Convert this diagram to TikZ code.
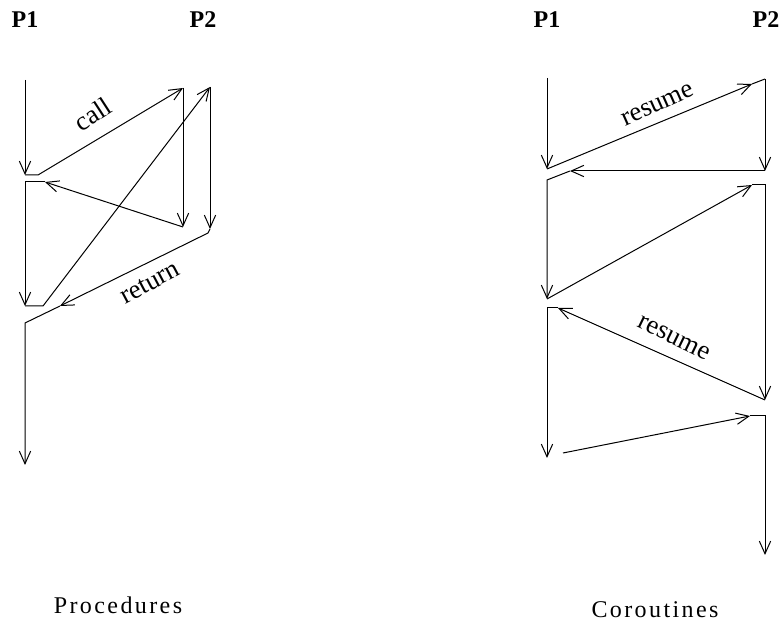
\documentclass[tikz,border=0pt]{standalone}
\usepackage{fontspec}
\setmainfont{Liberation Serif}
\usetikzlibrary{arrows.meta}

\begin{document}
\begin{tikzpicture}[x=0.75pt, y=-0.75pt,
                        flow/.style={-{Straight Barb[length=9.5pt, width=8.5pt]}, line width=0.75pt},
                        proc/.style={font=\bfseries\fontsize{18}{20}\selectfont},
                        lbl/.style={font=\fontsize{20}{22}\selectfont, inner sep=0pt},
                        caption/.style={font=\fontsize{18}{20}\selectfont\addfontfeature{LetterSpace=10}}]
                        \useasboundingbox (0, 0) rectangle (783, 623);
                        % procedures
                        \node[proc] (p1a) at (25, 20){P1};
                        \node[proc] (p2a) at (203, 20){P2};
                        \coordinate (a0) at (25, 80);
                        \coordinate (a1) at (25, 175);
                        \coordinate (a2) at (38, 175);
                        \coordinate (a3) at (45, 182);
                        \coordinate (a4) at (25, 182);
                        \coordinate (a5) at (25, 306);
                        \coordinate (a6) at (43, 306);
                        \coordinate (a7) at (60, 306);
                        \coordinate (a8) at (25, 323);
                        \coordinate (a9) at (25, 465);
                        \coordinate (b0) at (183, 88);
                        \coordinate (b1) at (183, 227);
                        \coordinate (c0) at (210, 87);
                        \coordinate (c1) at (210, 229);
                        \coordinate (c2) at (208, 233);
                        \draw[flow] (a0) -- (a1);
                        \draw[flow] (a1) -- (a2) -- (b0);
                        \draw[flow] (b0) -- (b1);
                        \draw[flow] (b1) -- (a3);
                        \draw[flow] (a3) -- (a4) -- (a5);
                        \draw[flow] (a5) -- (a6) -- (c0);
                        \draw[flow] (c0) -- (c1);
                        \draw[flow] (c1) -- (c2) -- (a7);
                        \draw[flow] (a7) -- (a8) -- (a9);
                        \node[lbl, rotate=33] (lcall) at (93, 114){call};
                        \node[lbl, rotate=28] (lreturn) at (150, 283){return};
                        \node[caption] (tproc) at (118, 605){Procedures};
                        % coroutines
                        \node[proc] (p1b) at (547, 20){P1};
                        \node[proc] (p2b) at (766, 20){P2};
                        \coordinate (d0) at (547, 78);
                        \coordinate (d1) at (547, 169);
                        \coordinate (d2) at (547, 180);
                        \coordinate (d3) at (547, 299);
                        \coordinate (d4) at (547, 308);
                        \coordinate (d5) at (547, 458);
                        \coordinate (e0) at (765, 79);
                        \coordinate (e1) at (765, 171);
                        \coordinate (e2) at (765, 185);
                        \coordinate (e3) at (765, 400);
                        \coordinate (e4) at (765, 416);
                        \coordinate (e5) at (765, 555);
                        \coordinate (r1) at (752, 84);
                        \coordinate (r2) at (570, 171);
                        \coordinate (r3) at (752, 185);
                        \coordinate (r4) at (750, 416);
                        \coordinate (r5) at (558, 308);
                        \coordinate (f0) at (563, 453);
                        \draw[flow] (d0) -- (d1);
                        \draw[flow] (d1) -- (r1);
                        \draw[line width=0.75pt] (r1) -- (e0);
                        \draw[flow] (e0) -- (e1);
                        \draw[flow] (e1) -- (r2);
                        \draw[flow] (r2) -- (d2) -- (d3);
                        \draw[flow] (d3) -- (r3);
                        \draw[flow] (r3) -- (e2) -- (e3);
                        \draw[flow] (e3) -- (r5);
                        \draw[flow] (r5) -- (d4) -- (d5);
                        \draw[flow] (f0) -- (r4);
                        \draw[flow] (r4) -- (e4) -- (e5);
                        \node[lbl, rotate=24] (lresume) at (658, 105){resume};
                        \node[lbl, rotate=-26] (lresumeb) at (674, 338){resume};
                        \node[caption] (tcor) at (655, 610){Coroutines};
                \end{tikzpicture}
\end{document}
